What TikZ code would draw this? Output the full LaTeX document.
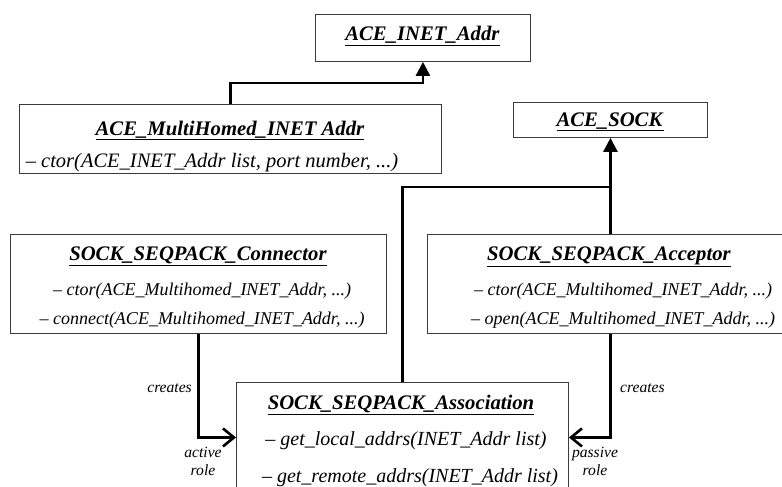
\documentclass[tikz,border=0pt]{standalone}
\usepackage{fontspec}
\setmainfont{Liberation Serif}
\usetikzlibrary{arrows.meta}
\definecolor{boxline}{HTML}{3A3A3A}
\newcommand{\clsname}[1]{\underline{\textbf{\textit{#1}}}}

\begin{document}
\begin{tikzpicture}[x=1pt,y=-1pt,
        classbox/.style={draw=boxline,line width=0.9pt,fill=white,
          anchor=north west,inner sep=0pt},
        clstitle/.style={anchor=base,inner sep=0pt,
          font=\fontsize{20.7}{24}\selectfont},
        method/.style={anchor=base,inner sep=0pt,
          font=\fontsize{18}{22}\selectfont\itshape},
        rolelabel/.style={inner sep=0pt,align=center,
          font=\fontsize{15.6}{18}\selectfont\itshape},
        inherit/.style={line width=2.6pt,
          -{Triangle[length=14pt,width=14pt]}},
        creates/.style={line width=2.6pt,
          -{Straight Barb[length=11pt,width=18pt,line width=2.6pt]}}]
        \clip (0,0) rectangle (782,487);
        % Class boxes; the texts sit on their own baselines.
        \node[classbox,minimum width=215,minimum height=47] (inet) at (315,14) {};
        \node[clstitle] (inettitle) at (422.5,41) {\clsname{ACE\_INET\_Addr}};
        \node[classbox,minimum width=422,minimum height=69] (multi) at (19,104) {};
        \node[clstitle] (multititle) at (230,135) {\clsname{ACE\_MultiHomed\_INET Addr}};
        \node[method,font=\fontsize{20.5}{24}\selectfont\itshape] (multictor) at (212,167)
          {-- ctor(ACE\_INET\_Addr list, port number, ...)};
        \node[classbox,minimum width=194,minimum height=35] (sock) at (513,102) {};
        \node[clstitle] (socktitle) at (610,126) {\clsname{ACE\_SOCK}};
        \node[classbox,minimum width=376,minimum height=99] (conn) at (10,234) {};
        \node[clstitle] (conntitle) at (198,260) {\clsname{SOCK\_SEQPACK\_Connector}};
        \node[method] (connctor) at (202,295) {-- ctor(ACE\_Multihomed\_INET\_Addr, ...)};
        \node[method] (connconnect) at (202,324) {-- connect(ACE\_Multihomed\_INET\_Addr, ...)};
        \node[classbox,minimum width=366,minimum height=99] (acc) at (427,234) {};
        \node[clstitle] (acctitle) at (609,260) {\clsname{SOCK\_SEQPACK\_Acceptor}};
        \node[method] (accctor) at (623,295) {-- ctor(ACE\_Multihomed\_INET\_Addr, ...)};
        \node[method] (accopen) at (623,324) {-- open(ACE\_Multihomed\_INET\_Addr, ...)};
        \node[classbox,minimum width=332,minimum height=110] (assoc) at (236,382) {};
        \node[clstitle] (assoctitle) at (401,409) {\clsname{SOCK\_SEQPACK\_Association}};
        \node[method,font=\fontsize{20}{24}\selectfont\itshape] (assoclocal) at (406,445)
          {-- get\_local\_addrs(INET\_Addr list)};
        \node[method,font=\fontsize{20}{24}\selectfont\itshape] (assocremote) at (410,482)
          {-- get\_remote\_addrs(INET\_Addr list)};
        % Inheritance.
        \draw[inherit] (multi.north) -- ++(0,-21) -| (inet.south);
        \draw[inherit] (assoc.north) -- ++(0,-195) -| (sock.south);
        \draw[line width=2.6pt] (acc.north) -- ++(0,-48);
        % Creation.
        \draw[creates] (conn.south) |- (assoc.west);
        \draw[creates] (acc.south) |- (assoc.east);
        \node[rolelabel,anchor=east] (conncreates) at (192,388) {creates};
        \node[rolelabel] (activerole) at (203,461) {active\\role};
        \node[rolelabel,anchor=west] (acccreates) at (620,388) {creates};
        \node[rolelabel] (passiverole) at (595,461) {passive\\role};
\end{tikzpicture}
\end{document}
